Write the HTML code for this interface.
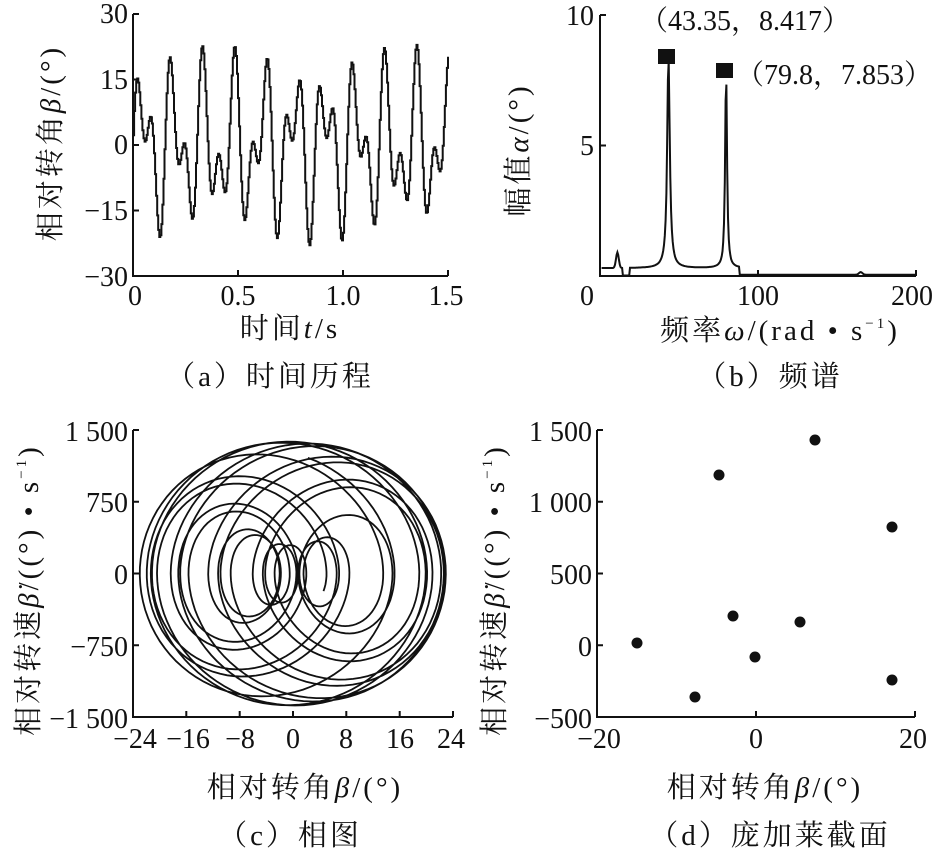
<!DOCTYPE html>
<html><head><meta charset="utf-8"><style>
html,body{margin:0;padding:0;background:#fff;}
svg{display:block;}
text{font-family:"Liberation Serif","Noto Serif CJK SC",serif;fill:#111;}
.t{font-size:28px;}
.c{font-size:29px;letter-spacing:3px;}
</style></head><body>
<svg id="s" width="936" height="852" viewBox="0 0 936 852" xmlns="http://www.w3.org/2000/svg">
<g stroke="#111" stroke-width="2" fill="none">
<path d="M133 14 V276 H448 M133 14 h6 M133 79.5 h6 M133 145 h6 M133 210.5 h6 M238 276 v-6 M343 276 v-6 M448 276 v-6"/>
<path d="M600 15 V276 H916 M600 15 h6 M600 145.5 h6 M758 276 v-6 M916 276 v-6"/>
<path d="M133 430 V717 H453 M133 430 h6 M133 501.75 h6 M133 573.5 h6 M133 645.25 h6 M186.3 717 v-6 M239.7 717 v-6 M293 717 v-6 M346.3 717 v-6 M399.7 717 v-6 M453 717 v-6"/>
<path d="M597 430 V717 H915 M597 430 h6 M597 501.75 h6 M597 573.5 h6 M597 645.25 h6 M756 717 v-6 M915 717 v-6"/>
<path id="pa" stroke-width="2"/>
<path id="pb" stroke-width="2"/>
<path id="pc" stroke-width="1.8"/>
</g>
<rect x="658" y="49" width="17" height="15" fill="#111"/>
<rect x="716" y="63" width="17" height="15" fill="#111"/>
<g fill="#111">
<circle cx="637" cy="643" r="5.5"/><circle cx="695" cy="697" r="5.5"/><circle cx="719" cy="475" r="5.5"/>
<circle cx="733" cy="616" r="5.5"/><circle cx="755" cy="657" r="5.5"/><circle cx="800" cy="622" r="5.5"/>
<circle cx="815" cy="440" r="5.5"/><circle cx="892" cy="527" r="5.5"/><circle cx="892" cy="680" r="5.5"/>
</g>
<g class="t" text-anchor="end">
<text x="128" y="23">30</text><text x="128" y="89">15</text><text x="128" y="154">0</text><text x="128" y="220">−15</text><text x="128" y="286">−30</text>
<text x="594" y="25">10</text><text x="594" y="155">5</text><text x="594" y="305">0</text>
<text x="128" y="441">1 500</text><text x="128" y="512">750</text><text x="128" y="584">0</text><text x="128" y="656">−750</text><text x="128" y="728">−1 500</text>
<text x="592" y="441">1 500</text><text x="592" y="512">1 000</text><text x="592" y="584">500</text><text x="592" y="656">0</text><text x="592" y="728">−500</text>
</g>
<g class="t" text-anchor="middle">
<text x="135" y="305">0</text><text x="238" y="305">0.5</text><text x="343" y="305">1.0</text><text x="446" y="305">1.5</text>
<text x="758" y="305">100</text><text x="912" y="305">200</text>
<text x="135" y="748">−24</text><text x="188" y="748">−16</text><text x="240" y="748">−8</text><text x="293" y="748">0</text><text x="346" y="748">8</text><text x="400" y="748">16</text><text x="451" y="748">24</text>
<text x="599" y="748">−20</text><text x="756" y="748">0</text><text x="913" y="748">20</text>
</g>
<text x="640" y="30" class="t">（43.35，8.417）</text>
<text x="736" y="84" class="t">（79.8，7.853）</text>
<g class="c" text-anchor="middle">
<text x="290" y="338">时间<tspan font-style="italic">t</tspan>/s</text>
<text x="780" y="340">频率<tspan font-style="italic">ω</tspan>/(rad • s<tspan font-size="15" dy="-12">−1</tspan><tspan dy="12">)</tspan></text>
<text x="270" y="386">（a）时间历程</text>
<text x="770" y="386">（b）频谱</text>
<text x="305" y="797">相对转角<tspan font-style="italic">β</tspan>/(°)</text>
<text x="765" y="797">相对转角<tspan font-style="italic">β</tspan>/(°)</text>
<text x="290" y="845">（c）相图</text>
<text x="770" y="845">（d）庞加莱截面</text>
<text transform="translate(60,143) rotate(-90)">相对转角<tspan font-style="italic">β</tspan>/(°)</text>
<text transform="translate(528,150) rotate(-90)">幅值<tspan font-style="italic">α</tspan>/(°)</text>
<text transform="translate(38,590) rotate(-90)">相对转速<tspan font-style="italic">β̇</tspan>/((°) • s<tspan font-size="15" dy="-12">−1</tspan><tspan dy="12">)</tspan></text>
<text transform="translate(504,590) rotate(-90)">相对转速<tspan font-style="italic">β̇</tspan>/((°) • s<tspan font-size="15" dy="-12">−1</tspan><tspan dy="12">)</tspan></text>
</g>
</svg>
<script>
var w1=43.35,w2=79.8,A1=12.5,A2=10.5,p1=-0.3,p2=0.6;
function b(t){return A1*Math.sin(w1*t+p1)+A2*Math.sin(w2*t+p2);}
function db(t){return A1*w1*Math.cos(w1*t+p1)+A2*w2*Math.cos(w2*t+p2);}
var d="",dt=0.005,prev=null;
for(var t=0;t<=1.5;t+=dt){var v=b(t);var x=133+t*210,y=145-v*4.367;
 if(prev===null)d+="M"+x.toFixed(1)+" "+y.toFixed(1);else d+="H"+x.toFixed(1)+"V"+y.toFixed(1);prev=y;}
document.getElementById("pa").setAttribute("d",d);
d="";
for(var f=1;f<=200;f+=0.5){var a=0.3;
 a+=8.1/(1+Math.pow((f-43.35)/1.0,2))+7.6/(1+Math.pow((f-79.8)/0.7,2));
 a+=0.6*Math.exp(-Math.pow((f-11)/1.2,2));
 if(f>14&&f<19)a=0.02;
 if(f>88)a=0.05+0.1*Math.exp(-Math.pow((f-165)/1.5,2));
 var x=600+f*1.58,y=276-a*26.1;d+=(d?"L":"M")+x.toFixed(1)+" "+y.toFixed(1);}
document.getElementById("pb").setAttribute("d",d);
d="";
for(var t=0;t<=1.6;t+=0.001){var x=293+b(t)*6.667,y=573.5-db(t)/1500*143.5;
 d+=(d?"L":"M")+x.toFixed(1)+" "+y.toFixed(1);}
document.getElementById("pc").setAttribute("d",d);
</script>
</body></html>
